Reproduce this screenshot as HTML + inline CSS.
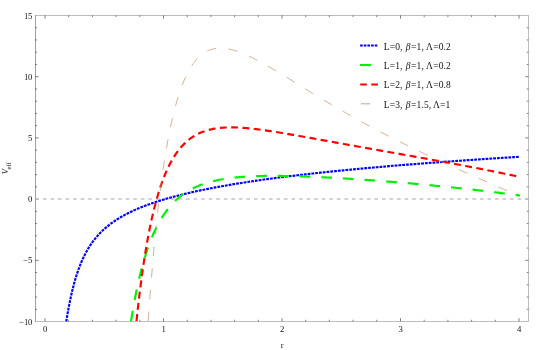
<!DOCTYPE html>
<html><head><meta charset="utf-8"><title>V_eff plot</title>
<style>html,body{margin:0;padding:0;background:#fff;}svg{display:block;}text{font-family:"Liberation Serif",serif;}</style>
</head><body>
<svg width="545" height="350" viewBox="0 0 545 350">
<defs><filter id="gs" x="0" y="0" width="545" height="350" filterUnits="userSpaceOnUse" color-interpolation-filters="sRGB"><feColorMatrix type="saturate" values="0"/></filter></defs>
<rect width="545" height="350" fill="#ffffff"/>
<g shape-rendering="crispEdges" stroke-width="1" fill="none"><path d="M35,15.5H529" stroke="#bcbcbc"/><path d="M35,321.5H529" stroke="#bfbfbf"/><path d="M528.5,15V322" stroke="#bcbcbc"/><path d="M35.5,15V322" stroke="#9e9e9e"/></g>
<path d="M45.00,321.4v-3.2M45.00,15.5v3.2M68.70,321.4v-1.65M68.70,15.5v1.65M92.40,321.4v-1.65M92.40,15.5v1.65M116.10,321.4v-1.65M116.10,15.5v1.65M139.80,321.4v-1.65M139.80,15.5v1.65M163.50,321.4v-3.2M163.50,15.5v3.2M187.20,321.4v-1.65M187.20,15.5v1.65M210.90,321.4v-1.65M210.90,15.5v1.65M234.60,321.4v-1.65M234.60,15.5v1.65M258.30,321.4v-1.65M258.30,15.5v1.65M282.00,321.4v-3.2M282.00,15.5v3.2M305.70,321.4v-1.65M305.70,15.5v1.65M329.40,321.4v-1.65M329.40,15.5v1.65M353.10,321.4v-1.65M353.10,15.5v1.65M376.80,321.4v-1.65M376.80,15.5v1.65M400.50,321.4v-3.2M400.50,15.5v3.2M424.20,321.4v-1.65M424.20,15.5v1.65M447.90,321.4v-1.65M447.90,15.5v1.65M471.60,321.4v-1.65M471.60,15.5v1.65M495.30,321.4v-1.65M495.30,15.5v1.65M519.00,321.4v-3.2M519.00,15.5v3.2M35.45,309.26h1.65M528.4,309.26h-1.65M35.45,297.02h1.65M528.4,297.02h-1.65M35.45,284.78h1.65M528.4,284.78h-1.65M35.45,272.54h1.65M528.4,272.54h-1.65M35.45,260.30h3.2M528.4,260.30h-3.2M35.45,248.06h1.65M528.4,248.06h-1.65M35.45,235.82h1.65M528.4,235.82h-1.65M35.45,223.58h1.65M528.4,223.58h-1.65M35.45,211.34h1.65M528.4,211.34h-1.65M35.45,199.10h3.2M528.4,199.10h-3.2M35.45,186.86h1.65M528.4,186.86h-1.65M35.45,174.62h1.65M528.4,174.62h-1.65M35.45,162.38h1.65M528.4,162.38h-1.65M35.45,150.14h1.65M528.4,150.14h-1.65M35.45,137.90h3.2M528.4,137.90h-3.2M35.45,125.66h1.65M528.4,125.66h-1.65M35.45,113.42h1.65M528.4,113.42h-1.65M35.45,101.18h1.65M528.4,101.18h-1.65M35.45,88.94h1.65M528.4,88.94h-1.65M35.45,76.70h3.2M528.4,76.70h-3.2M35.45,64.46h1.65M528.4,64.46h-1.65M35.45,52.22h1.65M528.4,52.22h-1.65M35.45,39.98h1.65M528.4,39.98h-1.65M35.45,27.74h1.65M528.4,27.74h-1.65" stroke="#000" stroke-width="0.5" fill="none"/>
<path d="M35.45,199.10H528.4" stroke="#c2c2c2" stroke-width="1.5" stroke-dasharray="3.5 4.035" fill="none"/>
<path d="M66.26,321.40 L66.77,318.34 L67.07,316.54 L67.37,314.78 L67.68,313.05 L67.98,311.35 L68.29,309.69 L68.59,308.05 L68.89,306.46 L69.20,304.89 L69.50,303.35 L69.80,301.85 L70.11,300.37 L70.72,297.52 L71.32,294.77 L71.93,292.14 L72.54,289.61 L73.15,287.19 L73.75,284.86 L74.36,282.62 L74.97,280.47 L75.57,278.40 L76.18,276.41 L76.79,274.50 L77.40,272.66 L78.00,270.88 L78.61,269.17 L79.22,267.52 L79.83,265.93 L80.43,264.39 L81.04,262.90 L81.65,261.47 L82.26,260.08 L83.17,258.09 L84.08,256.19 L84.99,254.37 L85.90,252.64 L86.81,250.98 L87.72,249.40 L88.63,247.88 L89.55,246.43 L90.46,245.03 L91.37,243.69 L92.28,242.40 L93.19,241.16 L94.10,239.97 L95.32,238.44 L96.53,236.98 L97.75,235.59 L98.96,234.26 L100.18,232.98 L101.39,231.76 L102.61,230.58 L103.82,229.45 L105.04,228.37 L106.25,227.32 L107.47,226.31 L108.68,225.33 L109.89,224.39 L111.11,223.48 L112.32,222.60 L113.84,221.53 L115.36,220.51 L116.88,219.52 L118.40,218.57 L119.92,217.65 L121.44,216.76 L122.95,215.90 L124.47,215.07 L125.99,214.26 L127.51,213.48 L129.03,212.72 L130.55,211.98 L132.07,211.26 L133.58,210.56 L135.10,209.88 L136.62,209.21 L138.14,208.56 L139.66,207.93 L141.18,207.31 L142.70,206.71 L144.21,206.12 L145.73,205.54 L147.25,204.98 L148.77,204.43 L150.29,203.89 L151.81,203.36 L153.33,202.84 L154.84,202.33 L156.36,201.83 L157.88,201.34 L159.40,200.86 L160.92,200.39 L162.44,199.93 L163.96,199.47 L165.47,199.02 L166.99,198.58 L168.51,198.15 L170.03,197.73 L171.55,197.31 L173.07,196.89 L174.59,196.49 L176.10,196.09 L177.62,195.69 L179.14,195.31 L180.66,194.92 L182.18,194.55 L183.70,194.18 L185.22,193.81 L186.73,193.45 L188.25,193.09 L189.77,192.74 L191.29,192.39 L192.81,192.05 L194.33,191.71 L195.85,191.38 L197.36,191.05 L198.88,190.72 L200.40,190.40 L201.92,190.09 L203.44,189.77 L204.96,189.46 L206.48,189.15 L208.00,188.85 L209.51,188.55 L211.03,188.26 L212.55,187.96 L214.07,187.67 L215.59,187.39 L217.11,187.10 L218.63,186.82 L220.14,186.55 L221.66,186.27 L223.18,186.00 L224.70,185.73 L226.22,185.46 L227.74,185.20 L229.26,184.94 L230.77,184.68 L232.29,184.42 L233.81,184.17 L235.33,183.92 L236.85,183.67 L238.37,183.43 L239.89,183.18 L241.40,182.94 L242.92,182.70 L244.44,182.46 L245.96,182.23 L247.48,181.99 L249.00,181.76 L250.52,181.53 L252.03,181.31 L253.55,181.08 L255.07,180.86 L256.59,180.64 L258.11,180.42 L259.63,180.20 L261.15,179.98 L262.66,179.77 L264.18,179.55 L265.70,179.34 L267.22,179.13 L268.74,178.93 L270.26,178.72 L271.78,178.52 L273.29,178.31 L274.81,178.11 L276.33,177.91 L277.85,177.71 L279.37,177.52 L280.89,177.32 L282.41,177.13 L283.92,176.94 L285.44,176.74 L286.96,176.55 L288.48,176.37 L290.00,176.18 L291.52,175.99 L293.04,175.81 L294.55,175.63 L296.07,175.44 L297.59,175.26 L299.11,175.08 L300.63,174.91 L302.15,174.73 L303.67,174.55 L305.18,174.38 L306.70,174.20 L308.22,174.03 L309.74,173.86 L311.26,173.69 L312.78,173.52 L314.30,173.35 L315.81,173.19 L317.33,173.02 L318.85,172.85 L320.37,172.69 L321.89,172.53 L323.41,172.37 L324.93,172.20 L326.44,172.04 L327.96,171.89 L329.48,171.73 L331.00,171.57 L332.52,171.41 L334.04,171.26 L335.56,171.10 L337.07,170.95 L338.59,170.80 L340.11,170.65 L341.63,170.50 L343.15,170.34 L344.67,170.20 L346.19,170.05 L347.70,169.90 L349.22,169.75 L350.74,169.61 L352.26,169.46 L353.78,169.32 L355.30,169.17 L356.82,169.03 L358.33,168.89 L359.85,168.75 L361.37,168.61 L362.89,168.46 L364.41,168.33 L365.93,168.19 L367.45,168.05 L368.96,167.91 L370.48,167.78 L372.00,167.64 L373.52,167.50 L375.04,167.37 L376.56,167.24 L378.08,167.10 L379.59,166.97 L381.11,166.84 L382.63,166.71 L384.15,166.58 L385.67,166.45 L387.19,166.32 L388.71,166.19 L390.22,166.06 L391.74,165.93 L393.26,165.80 L394.78,165.68 L396.30,165.55 L397.82,165.43 L399.34,165.30 L400.85,165.18 L402.37,165.05 L403.89,164.93 L405.41,164.81 L406.93,164.68 L408.45,164.56 L409.97,164.44 L411.48,164.32 L413.00,164.20 L414.52,164.08 L416.04,163.96 L417.56,163.84 L419.08,163.73 L420.60,163.61 L422.11,163.49 L423.63,163.37 L425.15,163.26 L426.67,163.14 L428.19,163.03 L429.71,162.91 L431.23,162.80 L432.74,162.68 L434.26,162.57 L435.78,162.46 L437.30,162.34 L438.82,162.23 L440.34,162.12 L441.86,162.01 L443.37,161.90 L444.89,161.79 L446.41,161.68 L447.93,161.57 L449.45,161.46 L450.97,161.35 L452.49,161.24 L454.00,161.13 L455.52,161.02 L457.04,160.92 L458.56,160.81 L460.08,160.70 L461.60,160.60 L463.12,160.49 L464.63,160.38 L466.15,160.28 L467.67,160.17 L469.19,160.07 L470.71,159.97 L472.23,159.86 L473.75,159.76 L475.26,159.66 L476.78,159.55 L478.30,159.45 L479.82,159.35 L481.34,159.25 L482.86,159.14 L484.38,159.04 L485.89,158.94 L487.41,158.84 L488.93,158.74 L490.45,158.64 L491.97,158.54 L493.49,158.44 L495.01,158.34 L496.53,158.24 L498.04,158.15 L499.56,158.05 L501.08,157.95 L502.60,157.85 L504.12,157.76 L505.64,157.66 L507.16,157.56 L508.67,157.47 L510.19,157.37 L511.71,157.27 L513.23,157.18 L514.75,157.08 L516.27,156.99 L517.79,156.89 L519.00,156.82" stroke="#0000ff" stroke-width="2.15" stroke-dasharray="2.8 1.0" stroke-dashoffset="0.28" fill="none"/>
<path d="M130.98,321.40 L131.24,319.74 L131.50,318.11 L131.76,316.51 L132.02,314.92 L132.29,313.36 L132.55,311.81 L132.81,310.29 L133.07,308.79 L133.33,307.30 L133.85,304.39 L134.37,301.55 L134.90,298.79 L135.42,296.09 L135.94,293.46 L136.46,290.90 L136.99,288.40 L137.51,285.96 L138.03,283.58 L138.55,281.26 L139.08,279.00 L139.60,276.79 L140.12,274.63 L140.64,272.53 L141.16,270.48 L141.69,268.47 L142.21,266.51 L142.73,264.60 L143.25,262.74 L143.78,260.92 L144.30,259.14 L144.82,257.40 L145.34,255.70 L145.86,254.04 L146.39,252.42 L146.91,250.83 L147.43,249.28 L147.95,247.77 L148.48,246.29 L149.00,244.85 L149.52,243.43 L150.30,241.37 L151.09,239.38 L151.87,237.45 L152.65,235.58 L153.44,233.78 L154.22,232.03 L155.00,230.34 L155.79,228.71 L156.57,227.12 L157.35,225.59 L158.14,224.11 L158.92,222.67 L159.70,221.27 L160.49,219.92 L161.27,218.61 L162.32,216.93 L163.36,215.32 L164.41,213.77 L165.45,212.28 L166.49,210.86 L167.54,209.49 L168.58,208.17 L169.63,206.91 L170.67,205.69 L171.72,204.53 L172.76,203.40 L173.81,202.32 L175.11,201.03 L176.42,199.81 L177.72,198.64 L179.03,197.52 L180.33,196.46 L181.64,195.44 L182.95,194.48 L184.25,193.56 L185.56,192.68 L186.86,191.84 L188.17,191.04 L189.47,190.28 L191.04,189.41 L192.61,188.59 L194.17,187.81 L195.74,187.08 L197.31,186.38 L198.87,185.72 L200.44,185.10 L202.01,184.51 L203.57,183.96 L205.14,183.43 L206.71,182.93 L208.28,182.46 L209.84,182.02 L211.41,181.60 L212.98,181.20 L214.54,180.83 L216.11,180.47 L217.68,180.14 L219.24,179.82 L220.81,179.53 L222.38,179.25 L223.94,178.98 L225.51,178.73 L227.08,178.50 L228.64,178.28 L230.21,178.07 L231.78,177.88 L233.34,177.70 L234.91,177.53 L236.48,177.37 L238.04,177.22 L239.61,177.08 L241.18,176.95 L242.74,176.83 L244.31,176.72 L245.88,176.62 L247.44,176.52 L249.01,176.44 L250.58,176.36 L252.15,176.28 L253.71,176.22 L255.28,176.16 L256.85,176.11 L258.41,176.06 L259.98,176.02 L261.55,175.98 L263.11,175.95 L264.68,175.93 L266.25,175.91 L267.81,175.89 L269.38,175.88 L270.95,175.87 L272.51,175.87 L274.08,175.87 L275.65,175.87 L277.21,175.88 L278.78,175.89 L280.35,175.91 L281.91,175.93 L283.48,175.95 L285.05,175.97 L286.61,176.00 L288.18,176.03 L289.75,176.07 L291.32,176.10 L292.88,176.14 L294.45,176.18 L296.02,176.23 L297.58,176.27 L299.15,176.32 L300.72,176.37 L302.28,176.43 L303.85,176.48 L305.42,176.54 L306.98,176.60 L308.55,176.66 L310.12,176.72 L311.68,176.79 L313.25,176.85 L314.82,176.92 L316.38,176.99 L317.95,177.06 L319.52,177.13 L321.08,177.21 L322.65,177.29 L324.22,177.36 L325.78,177.44 L327.35,177.52 L328.92,177.60 L330.48,177.69 L332.05,177.77 L333.62,177.86 L335.19,177.95 L336.75,178.03 L338.32,178.12 L339.89,178.21 L341.45,178.31 L343.02,178.40 L344.59,178.49 L346.15,178.59 L347.72,178.69 L349.29,178.78 L350.85,178.88 L352.42,178.98 L353.99,179.09 L355.55,179.19 L357.12,179.29 L358.69,179.40 L360.25,179.50 L361.82,179.61 L363.39,179.71 L364.95,179.82 L366.52,179.93 L368.09,180.04 L369.65,180.15 L371.22,180.27 L372.79,180.38 L374.35,180.50 L375.92,180.61 L377.49,180.73 L379.06,180.84 L380.62,180.96 L382.19,181.08 L383.76,181.20 L385.32,181.32 L386.89,181.45 L388.46,181.57 L390.02,181.69 L391.59,181.82 L393.16,181.95 L394.72,182.07 L396.29,182.20 L397.86,182.33 L399.42,182.46 L400.99,182.59 L402.56,182.72 L404.12,182.85 L405.69,182.99 L407.26,183.12 L408.82,183.26 L410.39,183.39 L411.96,183.53 L413.52,183.67 L415.09,183.81 L416.66,183.95 L418.23,184.09 L419.79,184.23 L421.36,184.38 L422.93,184.52 L424.49,184.67 L426.06,184.81 L427.63,184.96 L429.19,185.11 L430.76,185.26 L432.33,185.41 L433.89,185.56 L435.46,185.71 L437.03,185.86 L438.59,186.02 L440.16,186.17 L441.73,186.33 L443.29,186.49 L444.86,186.65 L446.43,186.81 L447.99,186.97 L449.56,187.13 L451.13,187.29 L452.69,187.45 L454.26,187.62 L455.83,187.78 L457.39,187.95 L458.96,188.12 L460.53,188.29 L462.10,188.45 L463.66,188.63 L465.23,188.80 L466.80,188.97 L468.36,189.14 L469.93,189.32 L471.50,189.50 L473.06,189.67 L474.63,189.85 L476.20,190.03 L477.76,190.21 L479.33,190.39 L480.90,190.58 L482.46,190.76 L484.03,190.94 L485.60,191.13 L487.16,191.32 L488.73,191.51 L490.30,191.70 L491.86,191.89 L493.43,192.08 L495.00,192.27 L496.56,192.47 L498.13,192.66 L499.70,192.86 L501.27,193.06 L502.83,193.26 L504.40,193.46 L505.97,193.66 L507.53,193.86 L509.10,194.06 L510.67,194.27 L512.23,194.47 L513.80,194.68 L515.37,194.89 L516.93,195.10 L518.50,195.31 L520.07,195.52" stroke="#00f000" stroke-width="2.15" stroke-dasharray="10.8 10.9" stroke-dashoffset="0.00" fill="none"/>
<path d="M136.46,321.40 L136.68,319.27 L136.94,316.85 L137.19,314.46 L137.45,312.09 L137.71,309.76 L137.96,307.47 L138.22,305.20 L138.48,302.96 L138.73,300.75 L138.99,298.57 L139.25,296.42 L139.50,294.29 L139.76,292.20 L140.01,290.13 L140.27,288.08 L140.53,286.07 L140.78,284.08 L141.04,282.12 L141.30,280.18 L141.55,278.26 L141.81,276.38 L142.07,274.51 L142.32,272.67 L142.58,270.85 L142.84,269.06 L143.09,267.29 L143.35,265.54 L143.60,263.81 L143.86,262.11 L144.12,260.43 L144.37,258.76 L144.63,257.12 L144.89,255.50 L145.14,253.91 L145.40,252.33 L145.66,250.77 L145.91,249.23 L146.17,247.71 L146.43,246.21 L146.68,244.72 L147.19,241.81 L147.71,238.98 L148.22,236.21 L148.73,233.51 L149.25,230.88 L149.76,228.31 L150.27,225.80 L150.78,223.36 L151.30,220.97 L151.81,218.64 L152.32,216.37 L152.84,214.16 L153.35,211.99 L153.86,209.88 L154.37,207.82 L154.89,205.81 L155.40,203.85 L155.91,201.93 L156.43,200.06 L156.94,198.24 L157.45,196.46 L157.96,194.72 L158.48,193.02 L158.99,191.36 L159.50,189.74 L160.02,188.16 L160.53,186.62 L161.04,185.11 L161.55,183.64 L162.07,182.20 L162.84,180.11 L163.61,178.09 L164.37,176.14 L165.14,174.26 L165.91,172.45 L166.68,170.70 L167.45,169.00 L168.22,167.37 L168.99,165.80 L169.76,164.28 L170.53,162.81 L171.30,161.39 L172.07,160.02 L172.84,158.70 L173.86,157.02 L174.89,155.40 L175.91,153.87 L176.94,152.40 L177.96,151.01 L178.99,149.68 L180.02,148.41 L181.04,147.20 L182.07,146.04 L183.09,144.94 L184.38,143.64 L185.66,142.42 L186.94,141.27 L188.22,140.19 L189.50,139.17 L190.79,138.22 L192.07,137.33 L193.35,136.49 L194.63,135.70 L196.17,134.83 L197.71,134.02 L199.25,133.28 L200.79,132.60 L202.32,131.97 L203.86,131.40 L205.40,130.87 L206.94,130.40 L208.48,129.97 L210.02,129.58 L211.56,129.23 L213.09,128.91 L214.63,128.64 L216.17,128.39 L217.71,128.18 L219.25,127.99 L220.79,127.84 L222.32,127.71 L223.86,127.60 L225.40,127.52 L226.94,127.46 L228.48,127.42 L230.02,127.40 L231.56,127.39 L233.09,127.41 L234.63,127.44 L236.17,127.49 L237.71,127.55 L239.25,127.62 L240.79,127.71 L242.33,127.81 L243.86,127.92 L245.40,128.05 L246.94,128.18 L248.48,128.32 L250.02,128.47 L251.56,128.63 L253.09,128.80 L254.63,128.98 L256.17,129.16 L257.71,129.35 L259.25,129.55 L260.79,129.75 L262.33,129.96 L263.86,130.17 L265.40,130.39 L266.94,130.61 L268.48,130.84 L270.02,131.07 L271.56,131.30 L273.10,131.54 L274.63,131.78 L276.17,132.02 L277.71,132.27 L279.25,132.52 L280.79,132.77 L282.33,133.03 L283.87,133.29 L285.40,133.55 L286.94,133.81 L288.48,134.07 L290.02,134.33 L291.56,134.60 L293.10,134.87 L294.63,135.14 L296.17,135.41 L297.71,135.68 L299.25,135.95 L300.79,136.22 L302.33,136.50 L303.87,136.77 L305.40,137.04 L306.94,137.32 L308.48,137.60 L310.02,137.87 L311.56,138.15 L313.10,138.43 L314.64,138.70 L316.17,138.98 L317.71,139.26 L319.25,139.54 L320.79,139.82 L322.33,140.09 L323.87,140.37 L325.40,140.65 L326.94,140.93 L328.48,141.21 L330.02,141.49 L331.56,141.76 L333.10,142.04 L334.64,142.32 L336.17,142.60 L337.71,142.88 L339.25,143.15 L340.79,143.43 L342.33,143.71 L343.87,143.99 L345.41,144.26 L346.94,144.54 L348.48,144.82 L350.02,145.09 L351.56,145.37 L353.10,145.65 L354.64,145.92 L356.17,146.20 L357.71,146.47 L359.25,146.75 L360.79,147.02 L362.33,147.30 L363.87,147.57 L365.41,147.85 L366.94,148.12 L368.48,148.40 L370.02,148.67 L371.56,148.95 L373.10,149.22 L374.64,149.49 L376.18,149.77 L377.71,150.04 L379.25,150.32 L380.79,150.59 L382.33,150.86 L383.87,151.14 L385.41,151.41 L386.94,151.68 L388.48,151.96 L390.02,152.23 L391.56,152.50 L393.10,152.78 L394.64,153.05 L396.18,153.32 L397.71,153.60 L399.25,153.87 L400.79,154.14 L402.33,154.42 L403.87,154.69 L405.41,154.97 L406.95,155.24 L408.48,155.51 L410.02,155.79 L411.56,156.06 L413.10,156.34 L414.64,156.61 L416.18,156.89 L417.72,157.17 L419.25,157.44 L420.79,157.72 L422.33,158.00 L423.87,158.27 L425.41,158.55 L426.95,158.83 L428.48,159.11 L430.02,159.38 L431.56,159.66 L433.10,159.94 L434.64,160.22 L436.18,160.50 L437.72,160.78 L439.25,161.06 L440.79,161.35 L442.33,161.63 L443.87,161.91 L445.41,162.20 L446.95,162.48 L448.49,162.76 L450.02,163.05 L451.56,163.34 L453.10,163.62 L454.64,163.91 L456.18,164.20 L457.72,164.49 L459.25,164.77 L460.79,165.06 L462.33,165.36 L463.87,165.65 L465.41,165.94 L466.95,166.23 L468.49,166.53 L470.02,166.82 L471.56,167.12 L473.10,167.41 L474.64,167.71 L476.18,168.01 L477.72,168.31 L479.26,168.61 L480.79,168.91 L482.33,169.21 L483.87,169.51 L485.41,169.82 L486.95,170.12 L488.49,170.43 L490.02,170.74 L491.56,171.04 L493.10,171.35 L494.64,171.66 L496.18,171.97 L497.72,172.29 L499.26,172.60 L500.79,172.91 L502.33,173.23 L503.87,173.55 L505.41,173.86 L506.95,174.18 L508.49,174.50 L510.03,174.83 L511.56,175.15 L513.10,175.47 L514.64,175.80 L516.18,176.12 L517.72,176.45 L519.00,176.73" stroke="#ff0000" stroke-width="2.15" stroke-dasharray="6.9 4.4" stroke-dashoffset="10.89" fill="none"/>
<path d="M148.21,321.40 L148.52,316.94 L148.77,313.40 L149.02,309.90 L149.26,306.45 L149.51,303.04 L149.76,299.68 L150.01,296.36 L150.26,293.08 L150.51,289.84 L150.76,286.65 L151.01,283.49 L151.26,280.37 L151.50,277.30 L151.75,274.26 L152.00,271.26 L152.25,268.30 L152.50,265.37 L152.75,262.48 L153.00,259.63 L153.25,256.82 L153.49,254.04 L153.74,251.29 L153.99,248.58 L154.24,245.90 L154.49,243.26 L154.74,240.65 L154.99,238.07 L155.24,235.52 L155.48,233.01 L155.73,230.53 L155.98,228.08 L156.23,225.65 L156.48,223.26 L156.73,220.90 L156.98,218.57 L157.23,216.27 L157.48,213.99 L157.72,211.74 L157.97,209.53 L158.22,207.33 L158.47,205.17 L158.72,203.03 L158.97,200.92 L159.22,198.84 L159.47,196.78 L159.71,194.74 L159.96,192.74 L160.21,190.75 L160.46,188.79 L160.71,186.86 L160.96,184.95 L161.21,183.06 L161.46,181.20 L161.71,179.35 L161.95,177.54 L162.20,175.74 L162.45,173.97 L162.70,172.21 L162.95,170.48 L163.20,168.77 L163.45,167.09 L163.70,165.42 L163.94,163.77 L164.19,162.14 L164.44,160.54 L164.69,158.95 L164.94,157.38 L165.19,155.84 L165.44,154.31 L165.69,152.80 L165.94,151.31 L166.43,148.38 L166.93,145.52 L167.43,142.74 L167.93,140.02 L168.42,137.37 L168.92,134.78 L169.42,132.26 L169.92,129.80 L170.41,127.40 L170.91,125.06 L171.41,122.77 L171.91,120.55 L172.40,118.38 L172.90,116.26 L173.40,114.19 L173.90,112.18 L174.39,110.21 L174.89,108.30 L175.39,106.43 L175.89,104.61 L176.39,102.84 L176.88,101.11 L177.38,99.42 L177.88,97.78 L178.38,96.18 L178.87,94.61 L179.37,93.09 L179.87,91.61 L180.37,90.17 L181.11,88.07 L181.86,86.05 L182.61,84.12 L183.35,82.25 L184.10,80.47 L184.84,78.75 L185.59,77.10 L186.34,75.51 L187.08,74.00 L187.83,72.54 L188.58,71.14 L189.32,69.80 L190.32,68.11 L191.31,66.51 L192.31,65.00 L193.30,63.57 L194.30,62.24 L195.29,60.98 L196.29,59.80 L197.53,58.43 L198.78,57.17 L200.02,56.02 L201.27,54.96 L202.51,54.00 L203.75,53.13 L205.25,52.19 L206.74,51.38 L208.23,50.66 L209.73,50.06 L211.22,49.54 L212.71,49.12 L214.20,48.78 L215.70,48.52 L217.19,48.34 L218.93,48.21 L220.67,48.18 L222.42,48.23 L224.16,48.36 L225.65,48.52 L227.14,48.74 L228.64,49.00 L230.13,49.31 L231.62,49.66 L233.11,50.06 L234.61,50.48 L236.10,50.95 L237.59,51.44 L239.09,51.97 L240.58,52.52 L242.07,53.11 L243.56,53.72 L245.06,54.35 L246.55,55.00 L248.04,55.68 L249.54,56.38 L251.03,57.09 L252.52,57.82 L254.01,58.57 L255.51,59.34 L257.00,60.11 L258.49,60.91 L259.99,61.71 L261.48,62.52 L262.97,63.35 L264.46,64.18 L265.96,65.03 L267.45,65.88 L268.94,66.74 L270.44,67.61 L271.93,68.49 L273.42,69.37 L274.91,70.25 L276.41,71.14 L277.90,72.04 L279.39,72.94 L280.89,73.84 L282.38,74.75 L283.87,75.66 L285.37,76.57 L286.86,77.48 L288.35,78.40 L289.84,79.32 L291.34,80.24 L292.83,81.16 L294.32,82.08 L295.82,83.00 L297.31,83.92 L298.80,84.84 L300.29,85.76 L301.79,86.68 L303.28,87.60 L304.77,88.51 L306.27,89.43 L307.76,90.35 L309.25,91.26 L310.74,92.17 L312.24,93.08 L313.73,93.99 L315.22,94.90 L316.72,95.81 L318.21,96.71 L319.70,97.61 L321.19,98.51 L322.69,99.41 L324.18,100.30 L325.67,101.20 L327.17,102.09 L328.66,102.97 L330.15,103.86 L331.64,104.74 L333.14,105.62 L334.63,106.49 L336.12,107.37 L337.62,108.24 L339.11,109.10 L340.60,109.97 L342.09,110.83 L343.59,111.69 L345.08,112.54 L346.57,113.39 L348.07,114.24 L349.56,115.09 L351.05,115.93 L352.54,116.77 L354.04,117.61 L355.53,118.44 L357.02,119.27 L358.52,120.10 L360.01,120.92 L361.50,121.74 L362.99,122.56 L364.49,123.37 L365.98,124.19 L367.47,124.99 L368.97,125.80 L370.46,126.60 L371.95,127.40 L373.44,128.20 L374.94,128.99 L376.43,129.78 L377.92,130.57 L379.42,131.35 L380.91,132.13 L382.40,132.91 L383.89,133.68 L385.39,134.46 L386.88,135.23 L388.37,135.99 L389.87,136.76 L391.36,137.52 L392.85,138.28 L394.34,139.03 L395.84,139.78 L397.33,140.53 L398.82,141.28 L400.32,142.03 L401.81,142.77 L403.30,143.51 L404.80,144.25 L406.29,144.98 L407.78,145.71 L409.27,146.44 L410.77,147.17 L412.26,147.89 L413.75,148.62 L415.25,149.34 L416.74,150.06 L418.23,150.77 L419.72,151.49 L421.22,152.20 L422.71,152.91 L424.20,153.61 L425.70,154.32 L427.19,155.02 L428.68,155.73 L430.17,156.42 L431.67,157.12 L433.16,157.82 L434.65,158.51 L436.15,159.20 L437.64,159.89 L439.13,160.58 L440.62,161.27 L442.12,161.96 L443.61,162.64 L445.10,163.32 L446.60,164.00 L448.09,164.68 L449.58,165.36 L451.07,166.04 L452.57,166.71 L454.06,167.38 L455.55,168.06 L457.05,168.73 L458.54,169.40 L460.03,170.07 L461.52,170.73 L463.02,171.40 L464.51,172.06 L466.00,172.73 L467.50,173.39 L468.99,174.05 L470.48,174.72 L471.97,175.38 L473.47,176.04 L474.96,176.69 L476.45,177.35 L477.95,178.01 L479.44,178.67 L480.93,179.32 L482.42,179.98 L483.92,180.63 L485.41,181.28 L486.90,181.94 L488.40,182.59 L489.89,183.24 L491.38,183.90 L492.87,184.55 L494.37,185.20 L495.86,185.85 L497.35,186.50 L498.85,187.15 L500.34,187.80 L501.83,188.45 L503.32,189.10 L504.82,189.75 L506.31,190.40 L507.80,191.05 L509.30,191.70 L510.79,192.35 L512.28,193.00 L513.77,193.65 L515.27,194.30 L516.76,194.95 L518.25,195.60 L519.00,195.92" stroke="#bb916c" stroke-width="0.72" stroke-dasharray="9.3 12.4" stroke-dashoffset="21.20" fill="none"/>
<g font-family="'Liberation Serif', serif" font-size="9.5" fill="#111" filter="url(#gs)"><text font-size="8.7" letter-spacing="-0.35" x="31.9" y="18.55" text-anchor="end">15</text><text font-size="8.7" letter-spacing="-0.35" x="31.9" y="79.75" text-anchor="end">10</text><text font-size="8.7" letter-spacing="-0.35" x="31.9" y="140.95" text-anchor="end">5</text><text font-size="8.7" letter-spacing="-0.35" x="31.9" y="202.15" text-anchor="end">0</text><text font-size="8.7" letter-spacing="-0.35" x="31.9" y="263.35" text-anchor="end">−5</text><text font-size="8.7" letter-spacing="-0.35" x="31.9" y="324.55" text-anchor="end">−10</text><text font-size="8.7" x="45.10" y="331.85" text-anchor="middle">0</text><text font-size="8.7" x="163.60" y="331.85" text-anchor="middle">1</text><text font-size="8.7" x="282.10" y="331.85" text-anchor="middle">2</text><text font-size="8.7" x="400.60" y="331.85" text-anchor="middle">3</text><text font-size="8.7" x="519.10" y="331.85" text-anchor="middle">4</text><text font-size="8.7" x="282.1" y="348.2" text-anchor="middle">r</text><text transform="translate(7.8,174.2) rotate(-90)" font-size="8.7" font-style="italic">V</text><text transform="translate(10.6,169.6) rotate(-90)" font-size="6.6">eff</text><text letter-spacing="0.15" y="49.50"><tspan x="383.7">L=0,</tspan><tspan x="405.7" font-style="italic">β</tspan><tspan dx="0.4">=1,</tspan><tspan x="426.1">Λ=0.2</tspan></text><text letter-spacing="0.15" y="68.80"><tspan x="383.7">L=1,</tspan><tspan x="405.7" font-style="italic">β</tspan><tspan dx="0.4">=1,</tspan><tspan x="426.1">Λ=0.2</tspan></text><text letter-spacing="0.15" y="88.20"><tspan x="383.7">L=2,</tspan><tspan x="405.7" font-style="italic">β</tspan><tspan dx="0.4">=1,</tspan><tspan x="426.1">Λ=0.8</tspan></text><text letter-spacing="0.15" y="107.60"><tspan x="383.7">L=3,</tspan><tspan x="405.7" font-style="italic">β</tspan><tspan dx="0.4">=1.5,</tspan><tspan x="433.0">Λ=1</tspan></text></g>
<path d="M360.1,45.6H378" stroke="#0000ff" stroke-width="2" stroke-dasharray="2.65 1.0" fill="none"/>
<path d="M360,65.0H371.2" stroke="#00f000" stroke-width="2" fill="none"/>
<path d="M360.2,84.4H378" stroke="#ff0000" stroke-width="2" stroke-dasharray="6.6 4.5" fill="none"/>
<path d="M360.8,103.8H370.2" stroke="#bb916c" stroke-width="0.8" fill="none"/>
</svg>
</body></html>
